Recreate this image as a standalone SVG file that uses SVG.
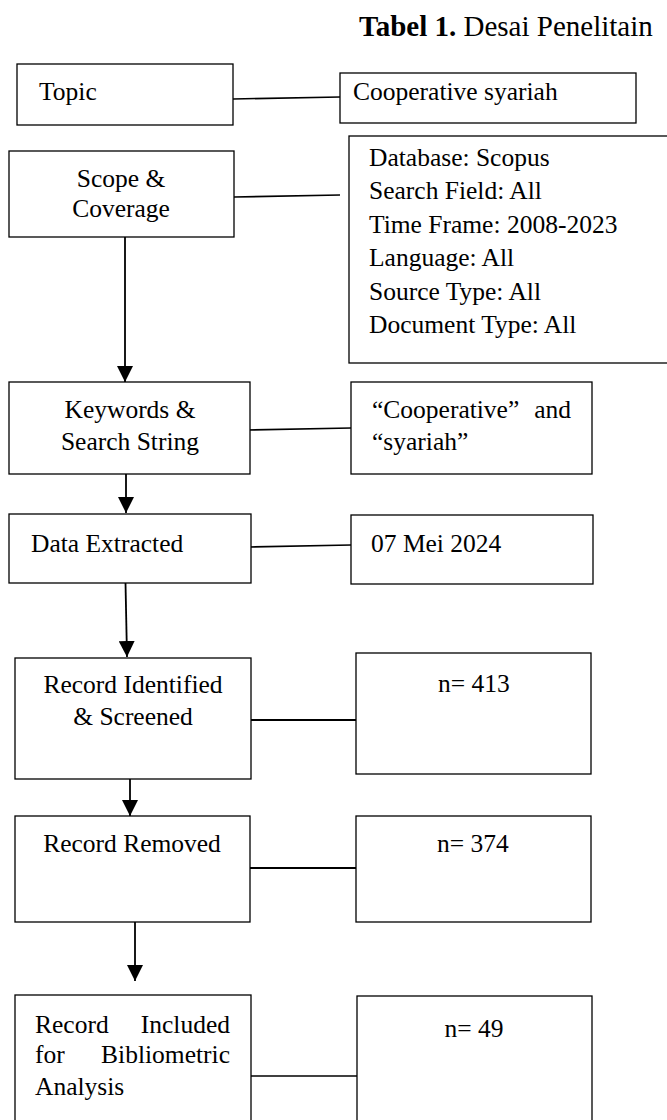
<svg xmlns="http://www.w3.org/2000/svg" width="667" height="1120" viewBox="0 0 667 1120">
<style>
.box{fill:#fff;stroke:#000;stroke-width:1.3}
.t{font-family:"Liberation Serif","Times New Roman",serif;font-size:25.5px;fill:#000}
.c{text-anchor:middle}
.e{text-anchor:end}
.ttl{font-family:"Liberation Serif","Times New Roman",serif;font-size:29px;fill:#000}
.ln{stroke:#000;stroke-width:1.6;fill:none}
.ar{stroke:#000;stroke-width:1.8;fill:none;marker-end:url(#ah)}
</style>
<defs>
<marker id="ah" viewBox="0 0 16 16" refX="16" refY="8" markerWidth="16" markerHeight="16" orient="auto" markerUnits="userSpaceOnUse">
<path d="M0,0 L16,8 L0,16 z" fill="#000"/>
</marker>
</defs>
<rect width="667" height="1120" fill="#fff"/>
<text class="ttl" x="359" y="36"><tspan font-weight="bold">Tabel 1.</tspan> Desai Penelitain</text>

<g id="connectors">
<line class="ln" x1="233" y1="99" x2="340" y2="97"/>
<line class="ln" x1="234" y1="197" x2="340" y2="195"/>
<line class="ln" x1="247" y1="430" x2="351" y2="428"/>
<line class="ln" x1="250" y1="547" x2="351" y2="545"/>
<line class="ln" x1="251" y1="720" x2="356" y2="720" style="stroke-width:2"/>
<line class="ln" x1="250" y1="868" x2="358" y2="868" style="stroke-width:2"/>
<line class="ln" x1="251" y1="1076" x2="357" y2="1076"/>
<line class="ar" x1="125" y1="237" x2="125" y2="382"/>
<line class="ar" x1="126" y1="474" x2="126" y2="513"/>
<line class="ar" x1="125.5" y1="583" x2="127" y2="657"/>
<line class="ar" x1="130" y1="779" x2="130" y2="816"/>
<line class="ar" x1="135" y1="922" x2="135" y2="981"/>
</g>

<g id="topic">
<rect class="box" x="17" y="64" width="216" height="61"/>
<text class="t" x="39" y="100">Topic</text>
</g>
<g id="topic-value">
<rect class="box" x="340" y="73" width="296" height="50"/>
<text class="t" x="353" y="100">Cooperative syariah</text>
</g>

<g id="scope">
<rect class="box" x="9" y="151" width="225" height="86"/>
<text class="t c" x="121" y="187">Scope &amp;</text>
<text class="t c" x="121" y="217">Coverage</text>
</g>
<g id="scope-value">
<rect class="box" x="349" y="136" width="325" height="227"/>
<text class="t" x="369" y="166">Database: Scopus</text>
<text class="t" x="369" y="199">Search Field: All</text>
<text class="t" x="369" y="233">Time Frame: 2008-2023</text>
<text class="t" x="369" y="266">Language: All</text>
<text class="t" x="369" y="300">Source Type: All</text>
<text class="t" x="369" y="333">Document Type: All</text>
</g>

<g id="keywords">
<rect class="box" x="9" y="382" width="241" height="92"/>
<text class="t c" x="130" y="418">Keywords &amp;</text>
<text class="t c" x="130" y="450">Search String</text>
</g>
<g id="keywords-value">
<rect class="box" x="351" y="382" width="241" height="92"/>
<text class="t" x="372" y="418">“Cooperative”</text>
<text class="t e" x="571" y="418">and</text>
<text class="t" x="372" y="450">“syariah”</text>
</g>

<g id="data">
<rect class="box" x="9" y="514" width="242" height="69"/>
<text class="t" x="31" y="552">Data Extracted</text>
</g>
<g id="data-value">
<rect class="box" x="351" y="515" width="242" height="69"/>
<text class="t" x="371" y="552">07 Mei 2024</text>
</g>

<g id="identified">
<rect class="box" x="15" y="658" width="236" height="121"/>
<text class="t c" x="133" y="693">Record Identified</text>
<text class="t c" x="133" y="725">&amp; Screened</text>
</g>
<g id="identified-value">
<rect class="box" x="356" y="653" width="235" height="121"/>
<text class="t c" x="474" y="692">n= 413</text>
</g>

<g id="removed">
<rect class="box" x="15" y="816" width="235" height="106"/>
<text class="t c" x="132" y="852">Record Removed</text>
</g>
<g id="removed-value">
<rect class="box" x="356" y="816" width="235" height="106"/>
<text class="t c" x="473" y="852">n= 374</text>
</g>

<g id="included">
<rect class="box" x="15" y="995" width="236" height="135"/>
<text class="t" x="35" y="1033">Record</text>
<text class="t e" x="230" y="1033">Included</text>
<text class="t" x="35" y="1063">for</text>
<text class="t e" x="230" y="1063">Bibliometric</text>
<text class="t" x="35" y="1095">Analysis</text>
</g>
<g id="included-value">
<rect class="box" x="357" y="996" width="235" height="134"/>
<text class="t c" x="474" y="1037">n= 49</text>
</g>
</svg>
